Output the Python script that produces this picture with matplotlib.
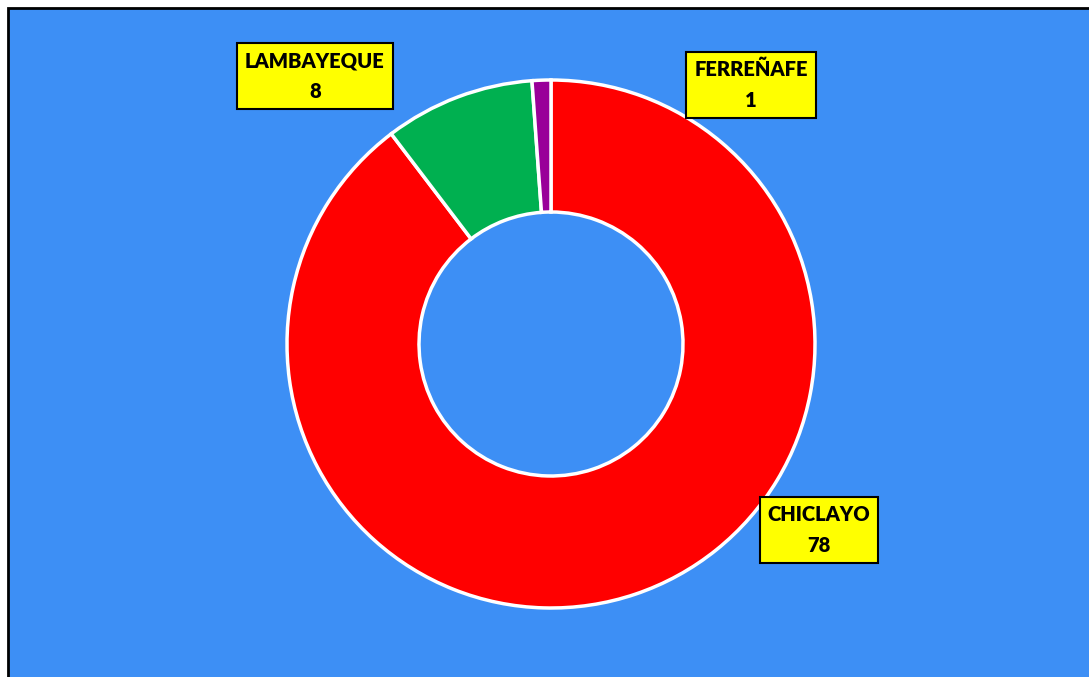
import matplotlib.pyplot as plt
from matplotlib.patches import Rectangle

# data
provincias = ['CHICLAYO', 'LAMBAYEQUE', 'FERREÑAFE']
casos = [78, 8, 1]
colores = ['#FF0000', '#00B050', '#990099']

W, H = 1089, 677
fig = plt.figure(figsize=(W / 100, H / 100), dpi=100)
fig.patch.set_facecolor('white')
ax = fig.add_axes([0, 0, 1, 1])
ax.set_xlim(0, W)
ax.set_ylim(0, H)
ax.axis('off')

# blue chart area with black border
ax.add_patch(Rectangle((8, -20), W + 20, H - 8 + 20, facecolor='#3D8FF5',
                       edgecolor='black', linewidth=2, zorder=0))

cx, cy = 551, H - 344
R = 264
ax.pie(casos, colors=colores, startangle=90, counterclock=False,
       radius=R, center=(cx, cy),
       wedgeprops=dict(width=R - 132, edgecolor='white', linewidth=2.5))
ax.set_xlim(0, W)
ax.set_ylim(0, H)
ax.set_aspect('auto')

# label positions (box centres, relative to donut centre)
offs = [(268, -186), (-236, 268), (200, 259)]
for name, v, (dx, dy) in zip(provincias, casos, offs):
    ax.text(cx + dx, cy + dy, f'{name}\n{v}', ha='center', va='center',
            fontsize=14.5, fontweight='heavy', family='Lato', color='black',
            linespacing=1.75,
            bbox=dict(boxstyle='square,pad=0.4', facecolor='#FFFF00',
                      edgecolor='black', linewidth=1.5))

fig.savefig('out.png', dpi=100)
